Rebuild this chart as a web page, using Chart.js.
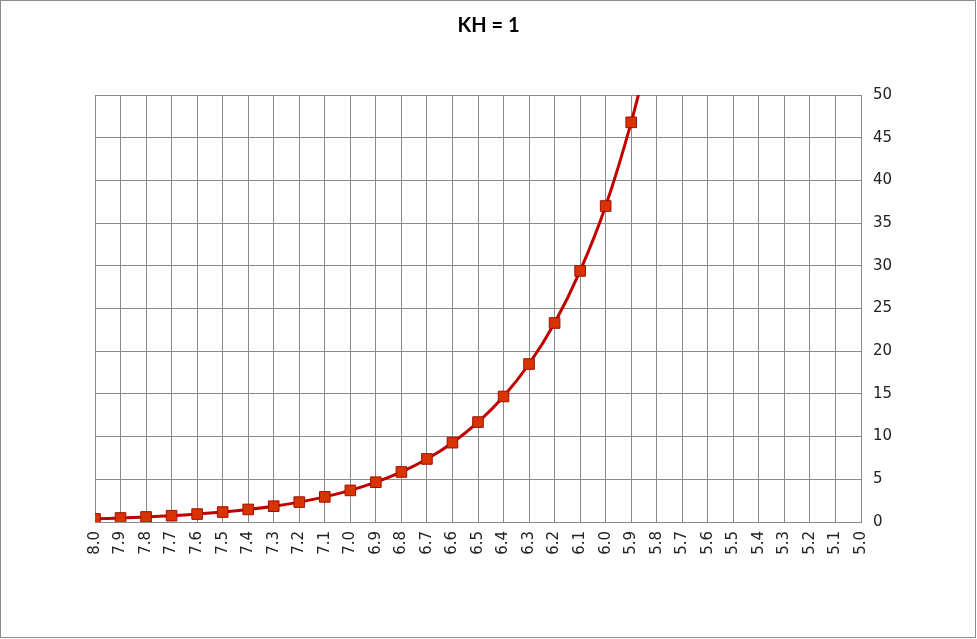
<!DOCTYPE html>
<html>
<head>
<meta charset="utf-8">
<script src="https://cdn.jsdelivr.net/npm/chart.js@4"></script>
<style>
  html, body { margin: 0; padding: 0; background: #fff; }
  #wrap { width: 977px; height: 639px; }
</style>
</head>
<body>
<div id="wrap"><canvas id="myChart" width="977" height="639"></canvas></div>
<script>
const phLabels = [
  "8.0", "7.9", "7.8", "7.7", "7.6", "7.5", "7.4", "7.3", "7.2", "7.1",
  "7.0", "6.9", "6.8", "6.7", "6.6", "6.5", "6.4", "6.3", "6.2", "6.1",
  "6.0", "5.9", "5.8", "5.7", "5.6", "5.5", "5.4", "5.3", "5.2", "5.1", "5.0",
];

// CO2 values (anything past 5.8 is off the top)
const co2Values = [
  0.37, 0.47, 0.59, 0.74, 0.93, 1.17, 1.47, 1.85, 2.33, 2.94,
  3.7, 4.66, 5.86, 7.38, 9.29, 11.7, 14.7, 18.5, 23.3, 29.4,
  37.0, 46.8, 58.6, null, null, null, null, null, null, null, null,
];

const yTicks = { min: 0, max: 50, step: 5 };

const ctx = document.getElementById("myChart");

// Thin grey frame around the whole picture
const frame = {
  id: "frame",
  afterDraw: (chart) => {
    const c = chart.ctx;
    c.save();
    c.strokeStyle = "#8c8c8c";
    c.lineWidth = 1;
    c.strokeRect(0.5, 0.5, 975, 637);
    c.restore();
  },
};

new Chart(ctx, {
  type: "line",
  data: {
    labels: phLabels,
    datasets: [
      {
        label: "KH = 1",
        data: co2Values,
        borderColor: "#c00000",
        borderWidth: 3,
        tension: 0.3,
        clip: 0,
        pointStyle: "rect",
        pointRadius: 7.5,
        pointBackgroundColor: "#d83300",
        pointBorderColor: "#a01000",
        pointBorderWidth: 1,
      },
    ],
  },
  options: {
    responsive: false,
    animation: false,
    layout: {
      padding: 0,
    },
    scales: {
      x: {
        offset: false,
        grid: { color: "#888", drawTicks: false },
        border: { color: "#888" },
        ticks: {
          autoSkip: false,
          minRotation: 90,
          maxRotation: 90,
          padding: 9,
          color: "#222",
          font: { family: "DejaVu Sans", size: 15 },
        },
        afterFit: (scale) => {
          scale.height = 117;
        },
      },
      y: {
        position: "right",
        min: yTicks.min,
        max: yTicks.max,
        grid: { color: "#888", drawTicks: false },
        border: { color: "#888" },
        ticks: {
          stepSize: yTicks.step,
          padding: 12,
          color: "#222",
          font: { family: "DejaVu Sans", size: 15 },
        },
        afterFit: (scale) => {
          scale.width = 116;
        },
      },
      // Empty spacer on the left so the title stays centred on the page
      spacer: {
        type: "linear",
        position: "left",
        grid: { display: false },
        border: { display: false },
        ticks: { display: false },
        afterFit: (scale) => {
          scale.width = 95;
        },
      },
    },
    plugins: {
      legend: { display: false },
      tooltip: { enabled: false },
      title: {
        display: true,
        text: "KH = 1",
        color: "#000",
        font: { family: "Lato", size: 20, weight: "bold" },
        padding: { top: 14, bottom: 57 },
      },
    },
  },
  plugins: [frame],
});
</script>
</body>
</html>
